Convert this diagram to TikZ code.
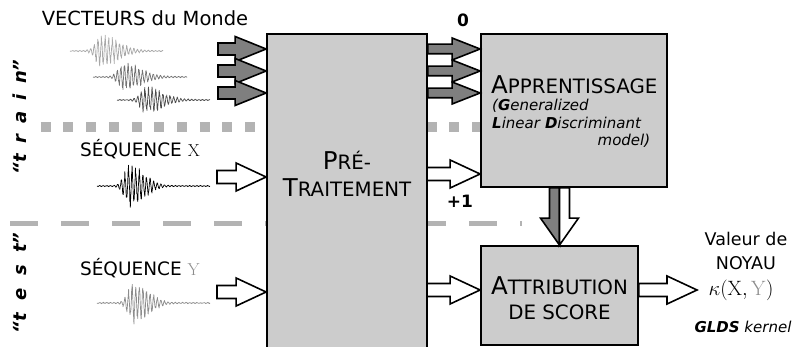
\documentclass[tikz,border=0pt]{standalone}
\usepackage[no-math]{fontspec}
\setmainfont{DejaVu Sans}
\usetikzlibrary{calc}

\definecolor{boxgray}{HTML}{CCCCCC}
\definecolor{arrowgray}{HTML}{7F7F7F}
\definecolor{sepgray}{HTML}{B3B3B3}
\definecolor{ygray}{HTML}{8C8C8C}
\definecolor{wavelight}{HTML}{A8A8A8}
\definecolor{wavemid}{HTML}{737373}
\definecolor{wavedark}{HTML}{4D4D4D}

% horizontal block arrow: shaft half-height, head half-height, head length
\tikzset{
  blockto/.style n args={3}{to path={let \p1=(\tikztostart), \p2=(\tikztotarget) in
    (\x1,{\y2+#1}) -- ({\x2-#3},{\y2+#1}) -- ({\x2-#3},{\y2+#2}) -- (\x2,\y2)
    -- ({\x2-#3},{\y2-#2}) -- ({\x2-#3},{\y2-#1}) -- (\x1,{\y2-#1}) -- cycle}},
  gin/.style={blockto={6pt}{12.5pt}{31pt}, fill=arrowgray, draw=black, line width=1.6pt},
  gout/.style={blockto={4.8pt}{11pt}{28pt}, fill=arrowgray, draw=black, line width=1.6pt},
  win/.style={blockto={6.5pt}{14pt}{30pt}, fill=white, draw=black, line width=1.6pt},
  % vertical split arrow, left or right half
  halfleft/.style={to path={let \p1=(\tikztostart), \p2=(\tikztotarget) in
    (\x2,\y1) -- ({\x2-10pt},\y1) -- ({\x2-10pt},{\y2+27pt}) -- ({\x2-19pt},{\y2+27pt}) -- (\x2,\y2) -- cycle},
    fill=arrowgray, draw=black, line width=1.6pt},
  halfright/.style={to path={let \p1=(\tikztostart), \p2=(\tikztotarget) in
    (\x2,\y1) -- ({\x2+10pt},\y1) -- ({\x2+10pt},{\y2+27pt}) -- ({\x2+19pt},{\y2+27pt}) -- (\x2,\y2) -- cycle},
    fill=white, draw=black, line width=1.6pt},
  box/.style={draw=black, fill=boxgray, line width=1.8pt, inner sep=0pt},
  label/.style={inner sep=0pt},
  wave/.style={line width=0.7pt, line join=round},
}

\newcommand\bigsc[2]{{\fontsize{24.5}{26}\selectfont #1}{\fontsize{19.8}{22}\selectfont #2}}
% a noisy burst: baseline, start, end, peak position, amplitude, rise and decay widths
\newcommand\burstplot[7]{plot[domain=#2:#3, samples=500, variable=\t]
  (\t, {#1 + (#5*exp(-((\t-#4)/(\t<#4 ? #6 : #7))^2)*(0.4+0.6*rnd) + 0.7*rnd)*sin((\t-#2)*100)})}

\begin{document}
\begin{tikzpicture}[x=1pt, y=-1pt]
\useasboundingbox (0,0) rectangle (795,347);
\clip (0,0) rectangle (795,347);
\pgfmathsetseed{11}

% separators between the "train" and "test" parts
\coordinate (dotstart) at (40.7,127);
\coordinate (dashstart) at (10,224);
\coordinate (dashend) at (522,224);
\draw[sepgray, line width=10pt, dash pattern=on 10pt off 12.7pt] (dotstart) -- (481,127);
\draw[sepgray, line width=5pt, dash pattern=on 28pt off 23pt] (dashstart) -- (dashend);

% processing blocks
\node[box, minimum width=160pt, minimum height=330pt] (pre) at (347,199) {};
\node[box, minimum width=186pt, minimum height=153pt] (appr) at (574,110.5) {};
\node[box, minimum width=157pt, minimum height=99pt] (attr) at (559.5,295.5) {};

% block texts
\node[label, align=center, font=\fontsize{19.8}{27}\selectfont] (pretxt) at (347,174)
  {\bigsc{P}{RÉ-}\\\bigsc{T}{RAITEMENT}};
\node[label, anchor=west] (apprtxt) at (491,85) {\bigsc{A}{PPRENTISSAGE}};
\node[label, anchor=north west, text width=158pt, align=left,
      font=\itshape\fontsize{15}{17.5}\selectfont] (glds) at (492,99)
  {(\textbf{G}eneralized\\\textbf{L}inear \textbf{D}iscriminant\\\hspace*{\fill}model)};
\node[label, align=center, font=\fontsize{19.8}{25}\selectfont] (attrtxt) at (559.5,298)
  {\bigsc{A}{TTRIBUTION}\\DE SCORE};

% input signals
\node[label, font=\fontsize{19.5}{22}\selectfont] (vec) at (145,18) {VECTEURS du Monde};
\node[label, font=\fontsize{18.5}{22}\selectfont] (seqx) at (140,149) {SÉQUENCE $\mathrm{X}$};
\node[label, font=\fontsize{18.5}{22}\selectfont] (seqy) at (140,268) {SÉQUENCE $\color{ygray}\mathrm{Y}$};
\draw[wave, wavelight] \burstplot{51}{70}{163}{101}{17}{8}{24};
\draw[wave, wavemid] \burstplot{77}{93}{187}{124}{15}{8}{24};
\draw[wave, wavedark] \burstplot{100}{117}{210}{146}{14}{8}{24};
\draw[wave, black] \burstplot{186}{97}{210}{130}{22}{8}{20};
\draw[wave, ygray] \burstplot{303}{97}{210}{134}{22}{8}{20};

% side labels
\node[label, rotate=90, font=\bfseries\itshape\fontsize{18}{20}\selectfont] (train) at (20,117)
  {“t\hspace{0.6em}r\hspace{0.6em}a\hspace{0.6em}i\hspace{0.6em}n”};
\node[label, rotate=90, font=\bfseries\itshape\fontsize{18}{20}\selectfont] (test) at (20,283)
  {“t\hspace{0.7em}e\hspace{0.7em}s\hspace{0.7em}t”};

% arrows
\coordinate (ga) at (218,49);
\coordinate (gb) at (218,71);
\coordinate (gc) at (218,93);
\foreach \c in {ga,gb,gc} {
  \draw[gin] (\c) to (pre.west |- \c);
  \draw[gout] (pre.east |- \c) to (appr.west |- \c);
}
\coordinate (xin) at (217,177);
\coordinate (xo) at (427,174);
\coordinate (yin) at (217,292);
\coordinate (yo) at (427,290);
\coordinate (outtip) at (697,290);
\draw[win] (xin) to (pre.west |- xin);
\draw[win] (xo) to (appr.west |- xo);
\draw[win] (yin) to (pre.west |- yin);
\draw[win] (yo) to (attr.west |- yo);
\draw[win] (attr.east |- outtip) to (outtip);
\draw[halfleft] (attr.north |- appr.south) to (attr.north);
\draw[halfright] (attr.north |- appr.south) to (attr.north);

\node[label, font=\bfseries\fontsize{17}{20}\selectfont] (zero) at (463,20) {0};
\node[label, font=\bfseries\fontsize{17}{20}\selectfont] (plusone) at (460,201) {+1};

% kernel output
\node[label, align=center, font=\fontsize{17.5}{24}\selectfont] (val) at (746,251) {Valeur de\\NOYAU};
\node[label, font=\fontsize{22}{24}\selectfont] (kap) at (741,290) {$\kappa(\mathrm{X},{\color{ygray}\mathrm{Y}})$};
\node[label, font=\itshape\fontsize{15}{17}\selectfont] (gk) at (743,327) {\textbf{GLDS} kernel};
\end{tikzpicture}
\end{document}
